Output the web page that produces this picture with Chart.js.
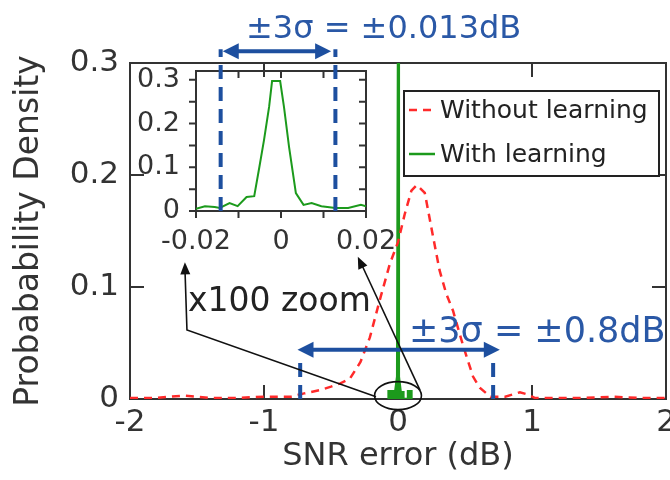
<!DOCTYPE html>
<html>
<head>
<meta charset="utf-8">
<script src="https://cdn.jsdelivr.net/npm/chart.js@4.4.1/dist/chart.umd.min.js"></script>
<style>
  html, body { margin: 0; padding: 0; background: #fff; }
  #wrap { position: relative; width: 670px; height: 480px; overflow: hidden; }
  #main { position: absolute; left: 0; top: 0; }
  #inset { position: absolute; left: 110px; top: 30px; }
</style>
</head>
<body>
<div id="wrap">
  <canvas id="main" width="670" height="480"></canvas>
  <canvas id="inset" width="300" height="240"></canvas>
</div>
<script>
// SNR error distribution without learning (dB, density)
const withoutX = [-2, -1.8, -1.6, -1.4, -1.2, -1.0, -0.9, -0.8, -0.7, -0.58, -0.5, -0.43, -0.36, -0.28, -0.21, -0.13, -0.06, 0.0, 0.05, 0.1, 0.14, 0.2, 0.26, 0.31, 0.36, 0.41, 0.49, 0.56, 0.61, 0.69, 0.8, 0.91, 0.97, 1.02, 1.2, 1.4, 1.6, 1.8, 2];
const withoutY = [0.001, 0.001, 0.003, 0.001, 0.001, 0.002, 0.002, 0.002, 0.005, 0.008, 0.011, 0.014, 0.018, 0.033, 0.055, 0.091, 0.121, 0.14, 0.165, 0.186, 0.191, 0.184, 0.146, 0.115, 0.094, 0.079, 0.046, 0.02, 0.01, 0.002, 0.002, 0.006, 0.004, 0.001, 0.001, 0.001, 0.002, 0.001, 0.001];

// with learning, full range
const withX = [-0.07, -0.07, -0.02, -0.006, 0, 0.006, 0.02, 0.04, 0.04, 0.075, 0.075, 0.1, 0.1];
const withY = [0, 0.007, 0.007, 0.02, 0.3, 0.02, 0.006, 0.006, 0, 0, 0.007, 0.007, 0];

// with learning, zoomed to ±0.02 dB
const zoomX = [-0.02, -0.0179, -0.0156, -0.0144, -0.0121, -0.0102, -0.0081, -0.0063, -0.0051, -0.004, -0.0028, -0.0021, -0.0002, 0.0007, 0.0019, 0.0035, 0.0053, 0.0072, 0.0095, 0.0128, 0.0158, 0.0188, 0.02];
const zoomY = [0.005, 0.011, 0.009, 0.007, 0.018, 0.011, 0.032, 0.034, 0.10, 0.162, 0.238, 0.297, 0.297, 0.238, 0.146, 0.041, 0.014, 0.018, 0.011, 0.007, 0.007, 0.014, 0.011];

// ±3σ bounds
const sigmaMain = [-0.73, 0.71];
const sigmaZoom = [-0.0142, 0.0128];
const arrowMain = [-0.75, 0.76];
const arrowZoom = [-0.0137, 0.0118];

const mainXTicks = [-2, -1, 0, 1, 2];
const mainYTicks = [0, 0.1, 0.2, 0.3];
const zoomXTicks = [-0.02, -0.01, 0, 0.01, 0.02];
const zoomYTicks = [0, 0.05, 0.1, 0.15, 0.2, 0.25, 0.3];

const FONT = 'DejaVu Sans';
const RED = '#ff2a2a';
const GREEN = '#1c9a1c';
const BLUE = '#1d4f9f';
const TEXT_BLUE = '#2a58a6';
const INK = '#333';

const pts = (xs, ys) => xs.map((x, i) => ({ x: x, y: ys[i] }));

// frame plus tick marks; dir +1 = into the plot, -1 = outward
function frameAndTicks(chart, xt, yt, len, dirs) {
    const { ctx, chartArea: a, scales: { x, y } } = chart;
    ctx.save();
    ctx.strokeStyle = INK;
    ctx.lineWidth = 2;
    ctx.strokeRect(a.left, a.top, a.right - a.left, a.bottom - a.top);
    ctx.beginPath();
    xt.forEach(v => {
        const px = x.getPixelForValue(v);
        ctx.moveTo(px, a.bottom); ctx.lineTo(px, a.bottom - len * dirs.bottom);
        ctx.moveTo(px, a.top); ctx.lineTo(px, a.top + len * dirs.top);
    });
    yt.forEach(v => {
        const py = y.getPixelForValue(v);
        ctx.moveTo(a.left, py); ctx.lineTo(a.left + len * dirs.left, py);
        ctx.moveTo(a.right, py); ctx.lineTo(a.right - len * dirs.right, py);
    });
    ctx.stroke();
    ctx.restore();
}

function arrowHead(ctx, x1, y1, x2, y2, len, half) {
    const ang = Math.atan2(y2 - y1, x2 - x1);
    ctx.beginPath();
    ctx.moveTo(x2, y2);
    ctx.lineTo(x2 - len * Math.cos(ang) + half * Math.sin(ang), y2 - len * Math.sin(ang) - half * Math.cos(ang));
    ctx.lineTo(x2 - len * Math.cos(ang) - half * Math.sin(ang), y2 - len * Math.sin(ang) + half * Math.cos(ang));
    ctx.closePath();
    ctx.fill();
}

function doubleArrow(ctx, xa, xb, py, color) {
    ctx.strokeStyle = color;
    ctx.fillStyle = color;
    ctx.lineWidth = 4;
    ctx.setLineDash([]);
    ctx.beginPath();
    ctx.moveTo(xa + 10, py); ctx.lineTo(xb - 10, py);
    ctx.stroke();
    arrowHead(ctx, xb, py, xa, py, 16, 8);
    arrowHead(ctx, xa, py, xb, py, 16, 8);
}

function dashedVertical(ctx, px, yBottom, yTop, color) {
    ctx.strokeStyle = color;
    ctx.lineWidth = 4;
    ctx.setLineDash([14, 8]);
    ctx.beginPath();
    ctx.moveTo(px, yBottom); ctx.lineTo(px, yTop);
    ctx.stroke();
    ctx.setLineDash([]);
}

const mainFrame = {
    id: 'mainFrame',
    beforeDatasetsDraw(chart) {
        frameAndTicks(chart, mainXTicks, mainYTicks, 14, { top: 1, bottom: 1, left: 1, right: 1 });
    }
};

const mainNotes = {
    id: 'mainNotes',
    afterDatasetsDraw(chart) {
        const { ctx, scales: { x, y } } = chart;
        ctx.save();

        // ±3σ for the no-learning case
        sigmaMain.forEach(v => dashedVertical(ctx, x.getPixelForValue(v), y.getPixelForValue(0), y.getPixelForValue(0.037), BLUE));
        doubleArrow(ctx, x.getPixelForValue(arrowMain[0]), x.getPixelForValue(arrowMain[1]), y.getPixelForValue(0.044), BLUE);

        ctx.fillStyle = TEXT_BLUE;
        ctx.textBaseline = 'alphabetic';
        ctx.textAlign = 'left';
        ctx.font = '35px "' + FONT + '"';
        ctx.fillText('±3σ = ±0.8dB', 409, 342);
        ctx.font = '32px "' + FONT + '"';
        ctx.fillText('±3σ = ±0.013dB', 246, 38);

        // zoom marker around the learned peak
        ctx.strokeStyle = '#111';
        ctx.fillStyle = '#111';
        ctx.lineWidth = 1.6;
        const cx = x.getPixelForValue(0), cy = y.getPixelForValue(0.003);
        const rx = x.getPixelForValue(0.175) - cx, ry = cy - y.getPixelForValue(0.0155);
        ctx.beginPath();
        ctx.ellipse(cx, cy, rx, ry, 0, 0, Math.PI * 2);
        ctx.stroke();

        const lx0 = x.getPixelForValue(-0.164), ly0 = y.getPixelForValue(0.002);
        const lx1 = x.getPixelForValue(-1.575), ly1 = y.getPixelForValue(0.0616);
        const lx2 = x.getPixelForValue(-1.59), ly2 = y.getPixelForValue(0.122);
        ctx.beginPath();
        ctx.moveTo(lx0, ly0); ctx.lineTo(lx1, ly1); ctx.lineTo(lx2, ly2 + 6);
        ctx.stroke();
        arrowHead(ctx, lx1, ly1, lx2, ly2, 12, 5);

        const rx0 = x.getPixelForValue(0.164), ry0 = y.getPixelForValue(0.008);
        const rx1 = x.getPixelForValue(-0.30), ry1 = y.getPixelForValue(0.127);
        ctx.beginPath();
        ctx.moveTo(rx0, ry0); ctx.lineTo(rx1 + 3, ry1 + 6);
        ctx.stroke();
        arrowHead(ctx, rx0, ry0, rx1, ry1, 12, 5);

        ctx.fillStyle = '#222';
        ctx.font = '33px "' + FONT + '"';
        ctx.fillText('x100 zoom', 188, 311);

        // legend
        const ds = chart.data.datasets;
        ctx.fillStyle = '#fff';
        ctx.fillRect(404, 91, 255, 85);
        ctx.strokeStyle = '#222';
        ctx.lineWidth = 2;
        ctx.strokeRect(404, 91, 255, 85);
        ctx.font = '25px "' + FONT + '"';
        ctx.textBaseline = 'middle';
        [110, 154].forEach((ly, i) => {
            ctx.strokeStyle = ds[i].borderColor;
            ctx.lineWidth = 2.5;
            ctx.setLineDash(ds[i].borderDash || []);
            ctx.beginPath();
            ctx.moveTo(409, ly); ctx.lineTo(435, ly);
            ctx.stroke();
            ctx.setLineDash([]);
            ctx.fillStyle = '#222';
            ctx.fillText(ds[i].label, 440, ly + 1);
        });
        ctx.restore();
    }
};

const insetFrame = {
    id: 'insetFrame',
    beforeDatasetsDraw(chart) {
        frameAndTicks(chart, zoomXTicks, zoomYTicks, 7, { top: 1, bottom: -1, left: -1, right: 1 });
    }
};

const insetNotes = {
    id: 'insetNotes',
    afterDatasetsDraw(chart) {
        const { ctx, scales: { x, y } } = chart;
        ctx.save();
        sigmaZoom.forEach(v => dashedVertical(ctx, x.getPixelForValue(v), y.getPixelForValue(0), y.getPixelForValue(0.37), BLUE));
        doubleArrow(ctx, x.getPixelForValue(arrowZoom[0]), x.getPixelForValue(arrowZoom[1]), y.getPixelForValue(0.365), BLUE);
        ctx.restore();
    }
};

new Chart(document.getElementById('main'), {
    type: 'scatter',
    data: {
        datasets: [{
            label: 'Without learning',
            data: pts(withoutX, withoutY),
            showLine: true,
            borderColor: RED,
            borderWidth: 2.5,
            borderDash: [8, 6],
            pointRadius: 0
        }, {
            label: 'With learning',
            data: pts(withX, withY),
            showLine: true,
            fill: 'origin',
            backgroundColor: GREEN,
            borderColor: GREEN,
            borderWidth: 2.5,
            pointRadius: 0
        }]
    },
    options: {
        responsive: false,
        animation: false,
        devicePixelRatio: 1,
        layout: { padding: { top: 63, right: 4, left: 0, bottom: 0 } },
        plugins: { legend: { display: false }, tooltip: { enabled: false } },
        scales: {
            x: {
                type: 'linear',
                min: -2,
                max: 2,
                afterBuildTicks: s => { s.ticks = mainXTicks.map(v => ({ value: v })); },
                ticks: { padding: 5, color: INK, font: { family: FONT, size: 31 }, callback: v => String(v) },
                grid: { display: false, drawTicks: false },
                border: { display: false },
                title: { display: true, text: 'SNR error (dB)', color: INK, font: { family: FONT, size: 32 }, padding: { top: 4, bottom: 4 } },
                afterFit: s => { s.height = 81; s.paddingLeft = 0; s.paddingRight = 0; }
            },
            y: {
                min: 0,
                max: 0.3,
                afterBuildTicks: s => { s.ticks = mainYTicks.map(v => ({ value: v })); },
                ticks: { padding: 11, color: INK, font: { family: FONT, size: 31 }, callback: v => v === 0 ? '0' : v.toFixed(1) },
                grid: { display: false, drawTicks: false },
                border: { display: false },
                title: { display: true, text: 'Probabability Density', color: INK, font: { family: FONT, size: 33 }, padding: { top: 10, bottom: 10 } },
                afterFit: s => { s.width = 130; }
            }
        }
    },
    plugins: [mainFrame, mainNotes]
});

new Chart(document.getElementById('inset'), {
    type: 'scatter',
    data: {
        datasets: [{
            label: 'With learning (zoom)',
            data: pts(zoomX, zoomY),
            showLine: true,
            borderColor: GREEN,
            borderWidth: 2,
            pointRadius: 0
        }]
    },
    options: {
        responsive: false,
        animation: false,
        devicePixelRatio: 1,
        layout: { padding: { top: 41, right: 44, left: 0, bottom: 0 } },
        plugins: { legend: { display: false }, tooltip: { enabled: false } },
        scales: {
            x: {
                type: 'linear',
                min: -0.02,
                max: 0.02,
                afterBuildTicks: s => { s.ticks = [-0.02, 0, 0.02].map(v => ({ value: v })); },
                ticks: { padding: 15, color: INK, font: { family: FONT, size: 27 }, callback: v => v === 0 ? '0' : v.toFixed(2) },
                grid: { display: false, drawTicks: false },
                border: { display: false },
                afterFit: s => { s.height = 59; s.paddingLeft = 0; s.paddingRight = 0; }
            },
            y: {
                min: 0,
                max: 0.32,
                afterBuildTicks: s => { s.ticks = [0, 0.1, 0.2, 0.3].map(v => ({ value: v })); },
                ticks: { padding: 16, color: INK, font: { family: FONT, size: 27 }, callback: v => v === 0 ? '0' : v.toFixed(1) },
                grid: { display: false, drawTicks: false },
                border: { display: false },
                afterFit: s => { s.width = 86; }
            }
        }
    },
    plugins: [insetFrame, insetNotes]
});
</script>
</body>
</html>
